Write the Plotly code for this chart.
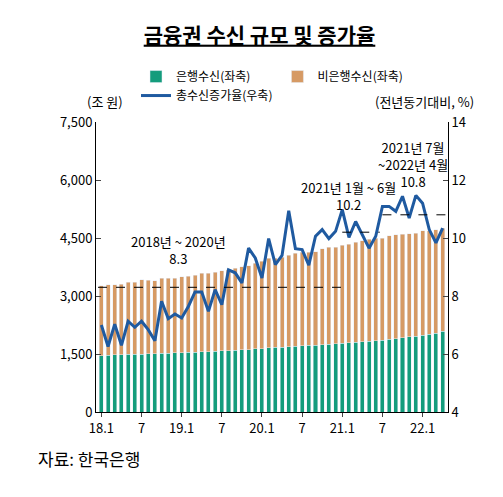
import plotly.graph_objects as go

x_idx = list(range(52))
tick_pos = [0, 6, 12, 18, 24, 30, 36, 42, 48]
tick_text = ["18.1", "7", "19.1", "7", "20.1", "7", "21.1", "7", "22.1"]

total = [3267,3293,3293,3310,3353,3353,3422,3413,3396,3456,3456,3456,3499,3508,3534,3586,3586,3620,3655,3681,
         3724,3758,3784,3853,3896,3982,3982,4000,4051,4112,4138,4138,4146,4224,4267,4267,4310,4344,4387,4431,
         4474,4500,4500,4560,4586,4603,4612,4629,4689,4689,4715,4758]
bank = [1460,1470,1475,1480,1490,1495,1500,1505,1510,1520,1525,1530,1535,1540,1545,1555,1560,1570,1580,1590,
        1600,1610,1615,1630,1640,1660,1670,1680,1690,1700,1710,1720,1730,1745,1755,1765,1780,1790,1800,1815,
        1830,1845,1860,1880,1900,1920,1940,1960,1990,2010,2040,2090]
nonbank = [t - b for t, b in zip(total, bank)]
growth = [7.0,6.26,7.03,6.3,7.13,6.92,7.13,6.84,6.46,7.82,7.22,7.38,7.24,7.64,8.14,8.14,7.47,8.22,7.7,8.9,
          8.8,8.45,9.65,9.31,8.62,9.98,9.08,9.4,10.94,9.63,9.6,9.06,10.06,10.29,9.98,10.23,10.98,10.02,10.57,10.11,
          9.65,10.06,11.09,11.09,10.92,11.44,10.69,11.47,11.2,10.29,9.83,10.34]
avg_periods = [(-0.5, 36, 8.3), (36, 41.6, 10.2), (42, 51.6, 10.8)]
labels = [(11.5, "2018년 ~ 2020년<br>8.3", 8.9), (37, "2021년 1월 ~ 6월<br>10.2", 10.75), (46.5, "2021년 7월<br>~2022년 4월<br>10.8", 11.55)]

fig = go.Figure()
fig.add_bar(x=x_idx, y=bank, name="은행수신(좌축)", marker_color="#149c7c", width=0.6)
fig.add_bar(x=x_idx, y=nonbank, name="비은행수신(좌축)", marker_color="#d69a64", width=0.6)
fig.add_scatter(x=x_idx, y=growth, name="총수신증가율(우축)", yaxis="y2", mode="lines",
                line=dict(color="#1f5aa0", width=3))
for x0, x1, v in avg_periods:
    fig.add_scatter(x=[x0, x1], y=[v, v], yaxis="y2", mode="lines", showlegend=False,
                    line=dict(color="black", width=1, dash="dash"))
for xx, t, yy in labels:
    fig.add_annotation(x=xx, y=yy, yref="y2", text=t, showarrow=False, yanchor="bottom",
                       font=dict(size=13, color="black"))

fig.update_layout(
    width=503, height=497, barmode="stack", plot_bgcolor="white", paper_bgcolor="white",
    font=dict(family="Noto Sans CJK KR", size=13, color="black"),
    margin=dict(l=88, r=63, t=114, b=93),
    title=dict(text="<b><u>금융권 수신 규모 및 증가율</u></b>", x=0.5, xanchor="center", y=0.945,
               yanchor="middle", font=dict(size=21)),
    legend=dict(orientation="h", x=0.5, xanchor="center", y=1.124, yanchor="middle",
                font=dict(size=12), itemwidth=30, traceorder="normal", tracegroupgap=0,
                bgcolor="rgba(0,0,0,0)"),
    xaxis=dict(range=[-0.8, 51.8], tickmode="array", tickvals=tick_pos, ticktext=tick_text,
               showline=True, linecolor="black", ticks="outside", ticklen=4, showgrid=False),
    yaxis=dict(range=[0, 7500], tickvals=[0, 1500, 3000, 4500, 6000, 7500],
               ticktext=["0", "1,500", "3,000", "4,500", "6,000", "7,500"],
               showline=True, linecolor="black", ticks="inside", showgrid=False),
    yaxis2=dict(range=[4, 14], overlaying="y", side="right", tickvals=[4, 6, 8, 10, 12, 14],
                showline=True, linecolor="black", ticks="inside", showgrid=False),
)
fig.add_annotation(xref="paper", yref="paper", x=-0.03, y=1.03, text="(조 원)", showarrow=False,
                   xanchor="left", yanchor="bottom")
fig.add_annotation(xref="paper", yref="paper", x=1.08, y=1.03, text="(전년동기대비, %)", showarrow=False,
                   xanchor="right", yanchor="bottom")
fig.add_annotation(xref="paper", yref="paper", x=-0.17, y=-0.16, text="자료: 한국은행", showarrow=False,
                   xanchor="left", yanchor="middle", font=dict(size=17))
fig.write_html("out.html")
